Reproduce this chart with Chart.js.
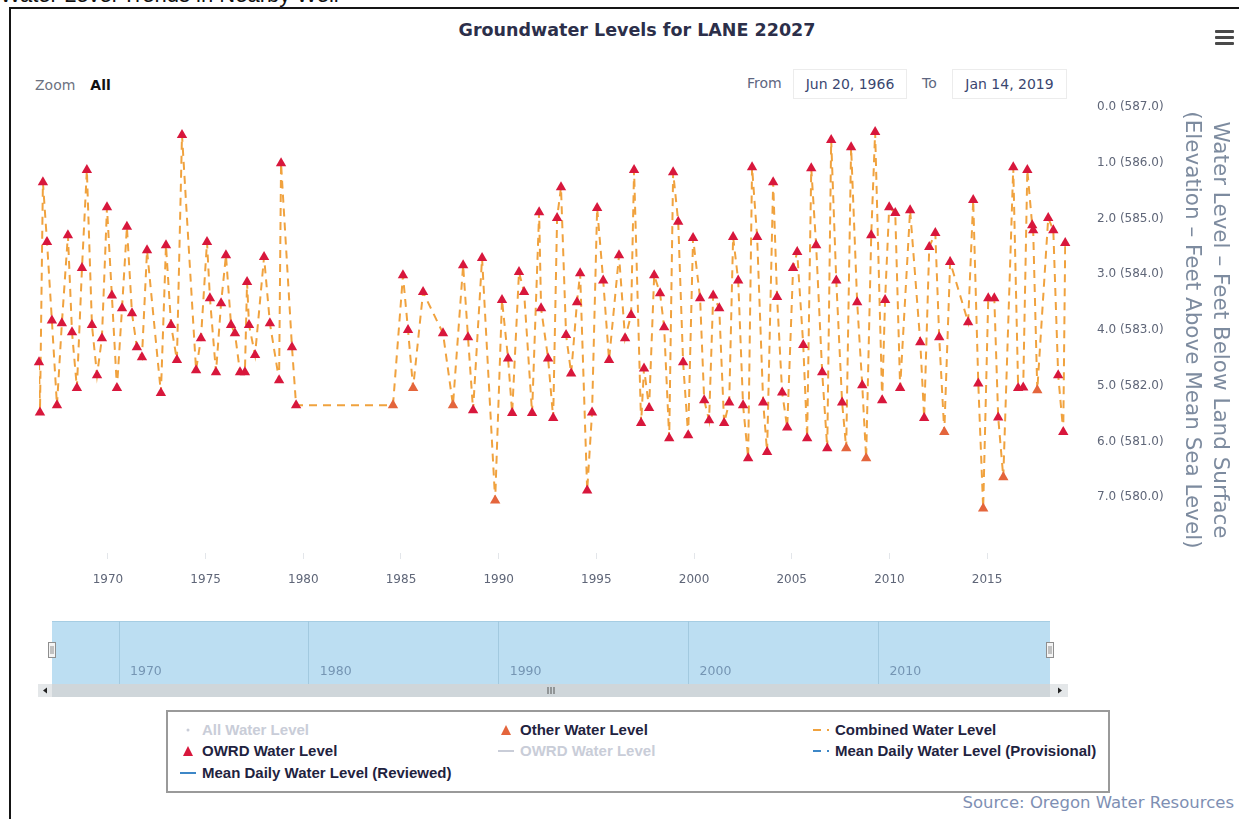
<!DOCTYPE html>
<html>
<head>
<meta charset="utf-8">
<title>Groundwater Levels for LANE 22027</title>
<script src="https://cdn.jsdelivr.net/npm/chart.js@4.4.1/dist/chart.umd.min.js"></script>
<style>
  html, body { margin: 0; padding: 0; background: #fff; }
  body { width: 1239px; height: 819px; position: relative; overflow: hidden; font-family: "DejaVu Sans", sans-serif; }
  canvas { position: absolute; left: 0; }
  #frame { position: absolute; left: 9px; top: 7px; width: 1250px; height: 840px; border-left: 2px solid #151515; border-top: 2px solid #151515; }
  #pagehead { position: absolute; left: 0; top: -18px; font: 22px "Liberation Sans", Arial, sans-serif; color: #111; white-space: nowrap; }
  #title { position: absolute; left: 637px; top: 20px; transform: translateX(-50%); font: bold 17.5px "DejaVu Sans", sans-serif; color: #2c2f4a; white-space: nowrap; }
  #menu { position: absolute; left: 1215px; top: 30px; width: 19px; }
  #menu span { display: block; height: 3px; background: #4a4a4a; margin-bottom: 3px; border-radius: 1px; }
  #zoom { position: absolute; left: 35px; top: 77px; font-size: 14px; white-space: nowrap; }
  #zoom .lab { color: #6d7281; }
  #zoom .all { color: #111; font-weight: bold; margin-left: 15px; }
  .rlab { position: absolute; top: 75px; font-size: 14px; color: #5e6680; }
  .rbox { position: absolute; top: 69px; height: 28px; line-height: 28px; border: 1px solid #ececec; font-size: 14px; color: #3a4670; text-align: center; }
  #legend { position: absolute; left: 166px; top: 710px; width: 940px; height: 79px; border: 2px solid #9a9a9a; }
  .item { position: absolute; height: 18px; line-height: 18px; font: bold 15px "Liberation Sans", Arial, sans-serif; color: #1f2340; white-space: nowrap; }
  .item svg { position: absolute; left: 0; top: 3px; }
  .item span { position: absolute; left: 22px; top: 0; }
  .item.off { color: #c9cdd8; }
  #source { position: absolute; right: 5px; top: 793px; font-size: 16.5px; color: #7e8fb3; white-space: nowrap; }
</style>
</head>
<body>
<div id="frame"></div>
<div id="pagehead">Water Level Trends in Nearby Well</div>
<div id="title">Groundwater Levels for LANE 22027</div>
<div id="menu"><span></span><span></span><span></span></div>
<div id="zoom"><span class="lab">Zoom</span><span class="all">All</span></div>
<div class="rlab" style="left:747px">From</div>
<div class="rbox" style="left:793px;width:112px">Jun 20, 1966</div>
<div class="rlab" style="left:922px">To</div>
<div class="rbox" style="left:952px;width:113px">Jan 14, 2019</div>
<canvas id="main" width="1239" height="593" style="top:0"></canvas>
<canvas id="nav" width="1239" height="105" style="top:600px"></canvas>
<div id="legend"></div>
<div id="source">Source: Oregon Water Resources</div>

<script>
// land surface elevation at the well, feet above mean sea level
const landSurface = 587.0;

// date range shown (decimal years, Jun 20 1966 - Jan 14 2019)
const rangeStart = 1966.47;
const rangeEnd = 2019.04;

// OWRD measurements: decimal year and feet below land surface
const owrdYears = [
  1966.47, 1966.52, 1966.67, 1966.88, 1967.13, 1967.39, 1967.64, 1967.95, 1968.16, 1968.41,
  1968.67, 1968.92, 1969.18, 1969.44, 1969.69, 1969.95, 1970.20, 1970.46, 1970.72, 1970.97,
  1971.23, 1971.48, 1971.74, 1972.00, 1972.71, 1972.97, 1973.23, 1973.53, 1973.79, 1974.51,
  1974.76, 1975.07, 1975.22, 1975.53, 1975.79, 1976.04, 1976.30, 1976.50, 1976.76, 1977.01,
  1977.12, 1977.22, 1977.53, 1977.99, 1978.29, 1978.76, 1978.86, 1979.42, 1979.63,
  1985.10, 1985.36, 1986.13, 1987.15, 1988.18, 1988.43, 1988.69, 1989.15,
  1990.17, 1990.48, 1990.69, 1991.04, 1991.30, 1991.71, 1992.07, 1992.17, 1992.53, 1992.79,
  1992.99, 1993.19, 1993.45, 1993.71, 1994.01, 1994.17, 1994.53, 1994.78, 1995.04, 1995.35,
  1995.65, 1996.16, 1996.47, 1996.78, 1996.93, 1997.29, 1997.44, 1997.70, 1997.96, 1998.26,
  1998.47, 1998.73, 1998.93, 1999.19, 1999.44, 1999.70, 1999.95, 2000.31, 2000.52, 2000.77,
  2000.98, 2001.29, 2001.54, 2001.80, 2002.00, 2002.26, 2002.51, 2002.77, 2002.97, 2003.23,
  2003.54, 2003.74, 2004.05, 2004.25, 2004.51, 2004.77, 2005.07, 2005.28, 2005.59, 2005.79,
  2006.00, 2006.25, 2006.56, 2006.82, 2007.02, 2007.28, 2007.58, 2008.04, 2008.35, 2008.61,
  2009.07, 2009.27, 2009.63, 2009.78, 2009.99, 2010.30, 2010.55, 2011.06, 2011.58, 2011.78,
  2012.04, 2012.35, 2012.55, 2013.11, 2014.03, 2014.29, 2014.55, 2015.06, 2015.37, 2015.57,
  2016.34, 2016.59, 2016.85, 2017.06, 2017.31, 2017.36, 2018.13, 2018.39, 2018.64, 2018.90,
  2019.00
];
const owrdLevels = [
  4.58, 5.48, 1.35, 2.42, 3.83, 5.35, 3.88, 2.30, 4.04, 5.04,
  2.89, 1.13, 3.91, 4.81, 4.15, 1.80, 3.38, 5.04, 3.61, 2.15,
  3.70, 4.31, 4.49, 2.57, 5.13, 2.48, 3.91, 4.54, 0.50, 4.72,
  4.15, 2.42, 3.43, 4.76, 3.52, 2.66, 3.91, 4.06, 4.76, 4.76,
  3.14, 3.91, 4.45, 2.69, 3.88, 4.90, 1.01, 4.31, 5.35,
  3.02, 4.00, 3.32, 4.06, 2.84, 4.13, 5.44, 2.71,
  3.46, 4.51, 5.49, 2.96, 3.32, 5.49, 1.89, 3.61, 4.51, 5.58,
  1.99, 1.44, 4.09, 4.78, 3.50, 2.98, 6.88, 5.48, 1.81, 3.11,
  4.54, 2.66, 4.15, 3.73, 1.13, 5.67, 4.69, 5.40, 3.02, 3.34,
  3.95, 5.94, 1.17, 2.06, 4.58, 5.89, 2.35, 3.43, 5.26, 5.62,
  3.38, 3.61, 5.67, 5.30, 2.33, 3.11, 5.35, 6.30, 1.08, 2.33,
  5.30, 6.19, 1.35, 3.41, 5.12, 5.75, 2.89, 2.60, 4.27, 5.94,
  1.10, 2.48, 4.76, 6.12, 0.59, 3.11, 5.30, 0.72, 3.50, 4.99,
  2.30, 0.45, 5.26, 3.46, 1.80, 1.90, 5.04, 1.85, 4.22, 5.58,
  2.51, 2.26, 4.13, 2.78, 3.86, 1.67, 4.96, 3.43, 3.43, 5.57,
  1.08, 5.04, 5.03, 1.13, 2.12, 2.21, 1.99, 2.21, 4.81, 5.83,
  2.44
];

// measurements from other sources
const otherYears = [1984.59, 1985.62, 1987.66, 1989.82, 2007.79, 2008.81, 2012.81, 2014.80, 2015.83, 2017.57];
const otherLevels = [5.35, 5.04, 5.35, 7.06, 6.12, 6.30, 5.83, 7.20, 6.64, 5.08];

// axis ticks
const yearTicks = [1970, 1975, 1980, 1985, 1990, 1995, 2000, 2005, 2010, 2015];
const navigatorTicks = [1970, 1980, 1990, 2000, 2010];
const depthTicks = [0, 1, 2, 3, 4, 5, 6, 7];

const axisTitle = ['Water Level \u2013 Feet Below Land Surface', '(Elevation \u2013 Feet Above Mean Sea Level)'];

const owrdPoints = owrdYears.map((x, i) => ({x: x, y: owrdLevels[i]}));
const otherPoints = otherYears.map((x, i) => ({x: x, y: otherLevels[i]}));
const combinedPoints = owrdPoints.concat(otherPoints).sort((a, b) => a.x - b.x);

Chart.defaults.font.family = '"DejaVu Sans", sans-serif';
Chart.defaults.animation = false;

const red = '#d8173c';
const orange = '#e4653c';
const dashOrange = '#f0a23e';
const blue = '#3d87c7';

const main = new Chart(document.getElementById('main'), {
    type: 'scatter',
    data: {
        datasets: [
            {label: 'All Water Level', data: [], hidden: true, legend: 'dot', color: '#c9cdd8',
             pointRadius: 2, showLine: false},
            {label: 'Other Water Level', data: otherPoints, legend: 'triangle', color: orange,
             pointStyle: 'triangle', pointRadius: 6, pointHoverRadius: 6,
             backgroundColor: orange, borderColor: orange, borderWidth: 0, clip: false, order: 0},
            {label: 'Combined Water Level', data: combinedPoints, legend: 'dash', color: dashOrange,
             showLine: true, pointRadius: 0, borderColor: dashOrange, borderWidth: 2,
             borderDash: [8, 6], order: 2},
            {label: 'OWRD Water Level', data: owrdPoints, legend: 'triangle', color: red,
             pointStyle: 'triangle', pointRadius: 6, pointHoverRadius: 6,
             backgroundColor: red, borderColor: red, borderWidth: 0, clip: false, order: 1},
            {label: 'OWRD Water Level', data: [], hidden: true, legend: 'line', color: '#c9cdd8',
             showLine: true, pointRadius: 0},
            {label: 'Mean Daily Water Level (Provisional)', data: [], legend: 'dash', color: blue,
             showLine: true, pointRadius: 0, borderColor: blue, borderDash: [8, 6]},
            {label: 'Mean Daily Water Level (Reviewed)', data: [], legend: 'line', color: blue,
             showLine: true, pointRadius: 0, borderColor: blue}
        ]
    },
    options: {
        responsive: false,
        layout: {padding: {top: 107, left: 39, right: 5, bottom: 0}},
        plugins: {legend: {display: false}, tooltip: {enabled: false}},
        scales: {
            x: {
                type: 'linear',
                min: rangeStart,
                max: rangeEnd,
                afterBuildTicks: (scale) => { scale.ticks = yearTicks.map(v => ({value: v})); },
                afterFit: (scale) => { scale.height = 40; },
                grid: {drawOnChartArea: false, drawTicks: true, tickLength: 6, color: '#e3e6ea'},
                border: {display: false},
                ticks: {padding: 14, color: '#5f6678', font: {size: 12}, callback: v => String(v)}
            },
            y: {
                position: 'right',
                reverse: true,
                min: 0,
                max: 8,
                afterBuildTicks: (scale) => { scale.ticks = depthTicks.map(v => ({value: v})); },
                afterFit: (scale) => { scale.width = 168; },
                grid: {display: false, drawTicks: false},
                border: {display: false},
                ticks: {
                    padding: 31, color: '#5f6678', font: {size: 12},
                    callback: v => v.toFixed(1) + ' (' + (landSurface - v).toFixed(1) + ')'
                },
                title: {
                    display: true, text: axisTitle, color: '#7d8b9f',
                    font: {size: 21.5, lineHeight: '28px'}, padding: {top: 0, bottom: 0}
                }
            }
        }
    }
});

// navigator band, decade labels, handles and scrollbar
const navigatorDecor = {
    id: 'navigatorDecor',
    beforeDraw(chart) {
        const {ctx, chartArea: a} = chart;
        ctx.save();
        ctx.fillStyle = '#bcdef2';
        ctx.fillRect(a.left, a.top, a.right - a.left, a.bottom - a.top);
        ctx.fillStyle = '#a6cde3';
        ctx.fillRect(a.left, a.top, a.right - a.left, 1);
        ctx.restore();
    },
    afterDraw(chart) {
        const {ctx, chartArea: a} = chart;
        const xs = chart.scales.x;
        ctx.save();
        ctx.fillStyle = '#7595b3';
        ctx.font = '12.5px "DejaVu Sans", sans-serif';
        ctx.textBaseline = 'middle';
        ctx.textAlign = 'left';
        navigatorTicks.forEach(v => ctx.fillText(String(v), xs.getPixelForValue(v) + 11, a.bottom - 12));
        // scrollbar
        const sy = a.bottom;
        ctx.fillStyle = '#e4e7e9';
        ctx.fillRect(a.left - 14, sy, a.right - a.left + 32, 13);
        ctx.fillStyle = '#cfd6da';
        ctx.fillRect(a.left, sy, a.right - a.left, 13);
        ctx.fillStyle = '#222';
        ctx.beginPath();
        ctx.moveTo(a.left - 9, sy + 6.5); ctx.lineTo(a.left - 5, sy + 3.5); ctx.lineTo(a.left - 5, sy + 9.5);
        ctx.fill();
        ctx.beginPath();
        ctx.moveTo(a.right + 12, sy + 6.5); ctx.lineTo(a.right + 8, sy + 3.5); ctx.lineTo(a.right + 8, sy + 9.5);
        ctx.fill();
        const mid = (a.left + a.right) / 2;
        ctx.fillStyle = '#555';
        for (let k = -1; k <= 1; k++) ctx.fillRect(mid + k * 3 - 0.5, sy + 3, 1, 7);
        // handles
        [a.left, a.right].forEach(hx => {
            ctx.fillStyle = '#f4f4f4';
            ctx.strokeStyle = '#8e8e8e';
            ctx.lineWidth = 1;
            ctx.fillRect(hx - 4, a.top + 21, 8, 16);
            ctx.strokeRect(hx - 3.5, a.top + 21.5, 7, 15);
            ctx.fillStyle = '#8e8e8e';
            ctx.fillRect(hx - 1.5, a.top + 25, 1, 8);
            ctx.fillRect(hx + 0.5, a.top + 25, 1, 8);
        });
        ctx.restore();
    }
};

new Chart(document.getElementById('nav'), {
    type: 'scatter',
    data: {datasets: []},
    options: {
        responsive: false,
        layout: {padding: {top: 21, left: 52, right: 189, bottom: 21}},
        plugins: {legend: {display: false}, tooltip: {enabled: false}},
        scales: {
            x: {
                type: 'linear',
                min: rangeStart,
                max: rangeEnd,
                afterBuildTicks: (scale) => { scale.ticks = navigatorTicks.map(v => ({value: v})); },
                afterFit: (scale) => { scale.height = 0; },
                grid: {drawOnChartArea: true, drawTicks: false, color: '#a2c9df'},
                border: {display: false},
                ticks: {display: false}
            },
            y: {display: false, min: 0, max: 8}
        }
    },
    plugins: [navigatorDecor]
});

// html legend in three columns, built from the chart's datasets
function legendSymbol(ds) {
    const c = main.isDatasetVisible(main.data.datasets.indexOf(ds)) ? ds.color : '#c9cdd8';
    if (ds.legend === 'triangle') {
        return '<svg width="16" height="12"><polygon points="8,1 13,11 3,11" fill="' + c + '"/></svg>';
    }
    if (ds.legend === 'dash') {
        return '<svg width="16" height="12"><line x1="0" y1="6" x2="16" y2="6" stroke="' + c +
            '" stroke-width="2" stroke-dasharray="8,6"/></svg>';
    }
    if (ds.legend === 'line') {
        return '<svg width="16" height="12"><line x1="0" y1="6" x2="16" y2="6" stroke="' + c +
            '" stroke-width="2"/></svg>';
    }
    return '<svg width="16" height="12"><circle cx="8" cy="6" r="1.5" fill="' + c + '"/></svg>';
}

const legendBox = document.getElementById('legend');
const colLeft = [12, 330, 645];
const rowTop = [9, 30, 52];
main.data.datasets.forEach((ds, i) => {
    const el = document.createElement('div');
    el.className = 'item' + (main.isDatasetVisible(i) ? '' : ' off');
    el.style.left = colLeft[i % 3] + 'px';
    el.style.top = rowTop[Math.floor(i / 3)] + 'px';
    el.innerHTML = legendSymbol(ds) + '<span>' + ds.label + '</span>';
    legendBox.appendChild(el);
});
</script>
</body>
</html>
